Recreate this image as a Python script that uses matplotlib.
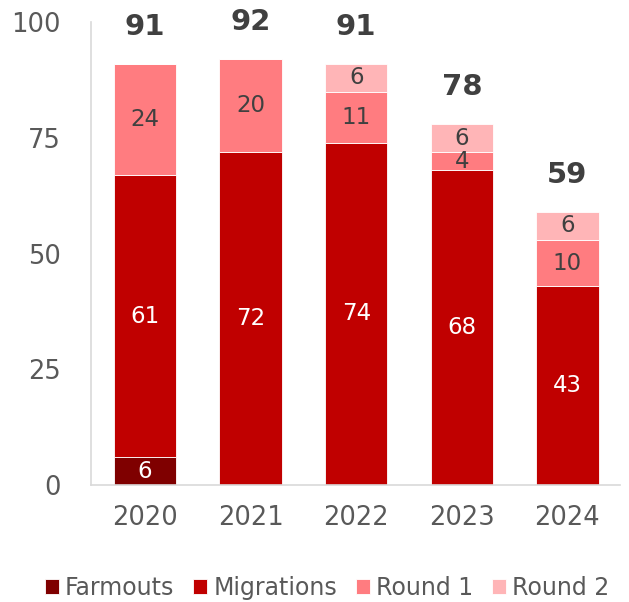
import matplotlib
matplotlib.use("Agg")
import matplotlib.pyplot as plt
import numpy as np

years = ["2020", "2021", "2022", "2023", "2024"]
farmouts = [6, 0, 0, 0, 0]
migrations = [61, 72, 74, 68, 43]
round1 = [24, 20, 11, 4, 10]
round2 = [0, 0, 6, 6, 6]

series = [
    ("Farmouts", farmouts, "#7F0000", "white"),
    ("Migrations", migrations, "#C00000", "white"),
    ("Round 1", round1, "#FF7C80", "#404040"),
    ("Round 2", round2, "#FFB5B7", "#404040"),
]

plt.rcParams["font.family"] = ["DejaVu Sans"]

fig = plt.figure(figsize=(6.29, 6.02), dpi=100)
ax = fig.add_axes([0.145, 0.194, 0.841, 0.769])

x = np.arange(len(years))
bottom = np.zeros(len(years))
for name, vals, color, tcolor in series:
    vals = np.array(vals, dtype=float)
    ax.bar(x, vals, 0.59, bottom=bottom, color=color, label=name,
           edgecolor="white", linewidth=0.6)
    for xi, b, v in zip(x, bottom, vals):
        if v > 0:
            ax.text(xi, b + v / 2, f"{v:g}", ha="center", va="center",
                    fontsize=16.5, color=tcolor)
    bottom += vals

for xi, tot in zip(x, bottom):
    ax.text(xi, tot + 8, f"{tot:g}", ha="center", va="center", fontsize=21,
            fontweight="bold", color="#404040", clip_on=False)

ax.set_xlim(-0.51, 4.5)
ax.set_ylim(0, 100)
ax.set_yticks([0, 25, 50, 75, 100])
ax.set_xticks(x, years)
ax.tick_params(length=0, labelsize=18.5, colors="#595959")
ax.tick_params(axis="y", pad=22)
ax.tick_params(axis="x", pad=14)
for s in ["top", "right"]:
    ax.spines[s].set_visible(False)
for s in ["left", "bottom"]:
    ax.spines[s].set_color("#D9D9D9")
    ax.spines[s].set_linewidth(1.2)

fig.legend(loc="center", bbox_to_anchor=(0.52, 0.023), ncol=4,
           frameon=False, fontsize=17, handlelength=0.6,
           handleheight=0.6, handletextpad=0.25, columnspacing=0.8,
           labelcolor="#595959")

fig.savefig("out.png", dpi=100)
